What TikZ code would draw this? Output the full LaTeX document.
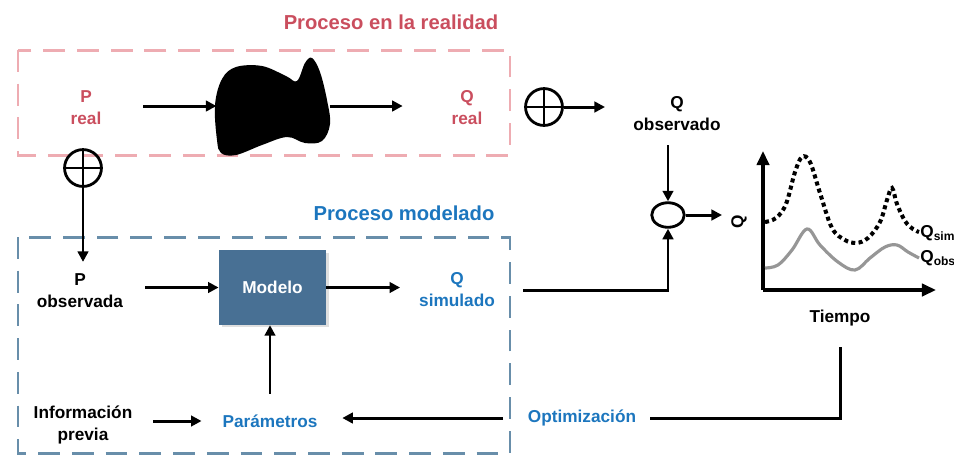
\documentclass[tikz,border=0pt]{standalone}
\usepackage{fontspec}
\setmainfont{Liberation Sans}
\usetikzlibrary{arrows.meta, positioning, shapes.geometric, shadows}

\definecolor{realred}{RGB}{202,78,94}
\definecolor{realpink}{RGB}{238,172,178}
\definecolor{modblue}{RGB}{28,118,190}
\definecolor{modgray}{RGB}{104,142,170}
\definecolor{modfill}{RGB}{72,112,148}
\definecolor{obsgray}{RGB}{150,150,150}

\tikzset{
	lbl/.style={font=\bfseries\fontsize{9.8}{12.5}\selectfont, align=center, inner sep=1pt},
	ttl/.style={font=\bfseries\fontsize{11.5}{13}\selectfont, inner sep=1pt},
	flow/.style={line width=1.7pt, -{Triangle[length=6pt,width=6pt]}},
	plain/.style={line width=1.7pt},
	axis/.style={line width=1.8pt, -{Triangle[length=8pt,width=7pt]}},
	procbox/.style={line width=1.7pt, dash pattern=on 12.4pt off 6.8pt},
	sumnode/.style={circle, draw, line width=1.6pt, minimum size=21pt, inner sep=0pt,
		path picture={\draw[line width=1.6pt]
			(path picture bounding box.north) -- (path picture bounding box.south)
			(path picture bounding box.west) -- (path picture bounding box.east);}},
	cmpnode/.style={ellipse, draw, line width=1.6pt, minimum width=18.5pt, minimum height=14pt, inner sep=0pt}
}

\begin{document}
\begin{tikzpicture}[x=0.02cm, y=-0.02cm]

\useasboundingbox (0,0) rectangle (954,458);

% proceso en la realidad
\node[ttl, text=realred] (ttlreal) at (391,22) {Proceso en la realidad};
\draw[procbox, realpink] (18,50) rectangle (510,155);

\node[lbl, text=realred] (preal) at (86,108) {P\\real};
\node[lbl, text=realred] (qreal) at (467,108) {Q\\real};
\node[minimum width=64pt, minimum height=56pt, inner sep=0pt] (blob) at (273,106) {};
\fill plot[smooth cycle, tension=0.6] coordinates {
	(217,140) (215,105) (222,79) (236,67) (262,66) (286,76) (297,81)
	(305,63) (312,58) (320,72) (327,100) (330,124) (322,141) (305,143)
	(287,137) (262,145) (236,155) (221,153)};

\draw[flow, shorten <=22.8pt] (preal.east |- blob.west) -- (blob.west);
\draw[flow, shorten >=26.7pt] (blob.east) -- (blob.east -| qreal.west);

% perturbaciones
\node[sumnode] (sumin) at (83,168) {};
\node[sumnode] (sumout) at (544,107) {};

% proceso modelado
\node[ttl, text=modblue] (ttlmod) at (404,213) {Proceso modelado};
\draw[procbox, modgray] (18,237) rectangle (510,453);

\node[lbl] (pobs) at (80,291) {P\\observada};
\node[rectangle, fill=modfill, minimum width=61pt, minimum height=42.5pt,
	drop shadow={opacity=0.25, shadow xshift=1.5pt, shadow yshift=-1.5pt},
	font=\bfseries\fontsize{9.8}{12.5}\selectfont, text=white] (model) at (272.5,287.5) {Modelo};
\node[lbl, text=modblue] (qsim) at (457,290) {Q\\simulado};
\node[lbl] (info) at (83,425) {Información\\previa};
\node[lbl, text=modblue] (param) at (270,421) {Parámetros};
\node[lbl, text=modblue] (optim) at (582,418) {Optimización};

\draw[flow, shorten >=5.7pt] (sumin.south) -- (sumin.south |- pobs.north);
\draw[flow, shorten <=11.4pt] (pobs.east |- model.west) -- (model.west);
\draw[flow, shorten >=9.7pt] (model.east) -- (model.east -| qsim.west);
\draw[flow, shorten <=10.8pt] (param.north) -- (param.north |- model.south);
\draw[flow, shorten <=10.8pt, shorten >=10.8pt] (info.east |- param.west) -- (param.west);
\draw[flow, shorten <=13pt, shorten >=13pt] (optim.west) -- (optim.west -| param.east);

% comparacion
\node[lbl] (qobs) at (677,114) {Q\\observado};
\node[cmpnode] (cmp) at (668,215) {};
\coordinate (cmpout) at (722,215);

\draw[flow, shorten >=15pt] (sumout.east) -- (sumout.east -| qobs.west);
\draw[flow, shorten <=6.8pt] (qobs.south -| cmp.north) -- (cmp.north);
\draw[flow, shorten <=15pt] (qsim.east) -| (cmp.south);
\draw[flow] (cmp.east) -- (cmpout);

% grafico
\coordinate (orig) at (763,290);
\draw[axis] (orig) -- (763,151);
\draw[axis] (orig) -- (936,290);
\node[lbl, rotate=90] (qaxis) at (739,222) {Q};
\node[lbl] (tiempo) at (840,318) {Tiempo};

\draw[line width=2.3pt, dash pattern=on 2.3pt off 1.9pt] plot[smooth, tension=0.6] coordinates {
	(765,222) (776,218) (786,204) (795,172) (802,157) (810,162) (820,193)
	(832,228) (845,240) (856,243) (868,238) (880,222) (887,200) (892,188)
	(897,204) (905,221) (913,229) (919,232)};
\draw[obsgray, line width=1.8pt] plot[smooth, tension=0.6] coordinates {
	(765,268) (778,265) (792,250) (807,229) (820,245) (838,262) (855,270)
	(870,258) (885,247) (897,245) (908,252) (919,258)};
\node[lbl, anchor=west, inner sep=0pt] (qsimlbl) at (920,233) {Q\textsubscript{sim}};
\node[lbl, anchor=west, inner sep=0pt] (qobslbl) at (920,258) {Q\textsubscript{obs}};

\draw[plain, shorten <=10.8pt, shorten >=6.8pt] (tiempo.south) |- (optim.east); % lazo de optimizacion

\end{tikzpicture}
\end{document}
